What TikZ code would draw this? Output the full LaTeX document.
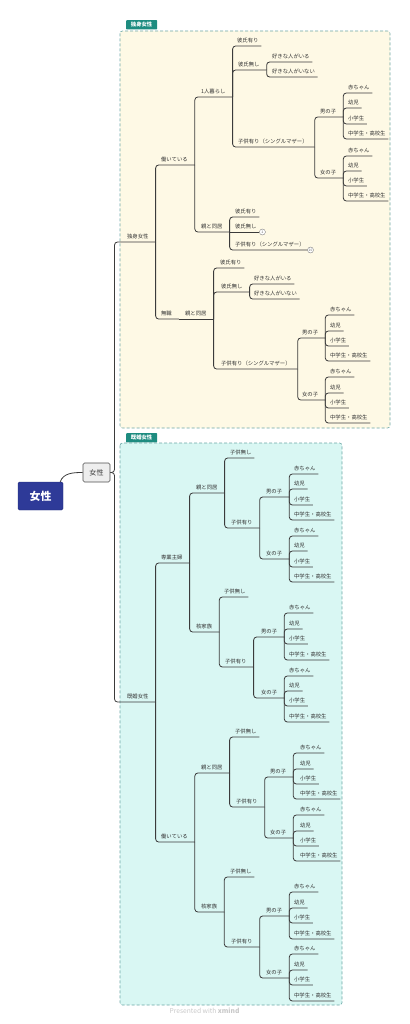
\documentclass[tikz,border=0pt]{standalone}
\usepackage{fontspec}
\setmainfont{Noto Sans CJK JP}
\usetikzlibrary{positioning}

\definecolor{ink}{HTML}{333333}
\definecolor{edge}{HTML}{3B3B3B}
\definecolor{rootblue}{HTML}{2E3A98}
\definecolor{rootedge}{HTML}{232C78}
\definecolor{mainfill}{HTML}{EEEEEE}
\definecolor{tagteal}{HTML}{1E8C80}
\definecolor{zonedash}{HTML}{6BA6A6}
\definecolor{zonecream}{HTML}{FEF9E5}
\definecolor{zonecyan}{HTML}{D9F7F3}
\definecolor{foot}{HTML}{C8C8C8}

\begin{document}
\begin{tikzpicture}[x=0.5mm,y=-0.5mm,
  branch/.style={draw=edge,line width=1.15pt,rounded corners=1.5mm},
  lbl/.style={anchor=south west,inner xsep=0pt,inner ysep=3.2pt,text height=5.8pt,text depth=1pt,text=ink,font=\fontsize{7.6}{8}\selectfont},
  topic/.style={lbl,execute at begin node={\hspace*{4mm}},execute at end node={\hspace*{3.5mm}}},
  leaf/.style={lbl,execute at begin node={\hspace*{3.5mm}},execute at end node={\hspace*{1.3mm}}},
  fold/.style={circle,draw=edge!70,fill=white,line width=0.5pt,inner sep=0pt,minimum size=3mm,font=\fontsize{4.6}{5}\selectfont,text=edge!80},
  zone/.style={draw=zonedash,dash pattern=on 1.5mm off 1mm,line width=0.8pt,rounded corners=1.2mm},
  tag/.style={anchor=south west,fill=tagteal,text=white,rounded corners=1pt,inner sep=0pt,minimum width=15.5mm,minimum height=4.6mm,font=\bfseries\fontsize{7.6}{8}\selectfont},
  rootbox/.style={draw=rootedge,fill=rootblue,text=white,rounded corners=2pt,minimum width=22.5mm,minimum height=14mm,font=\bfseries\fontsize{15.5}{16}\selectfont},
  mainbox/.style={draw=edge!90,fill=mainfill,text=ink,rounded corners=2pt,line width=0.8pt,minimum width=13.5mm,minimum height=9.5mm,font=\fontsize{10}{11}\selectfont}
]
\useasboundingbox (0,0) rectangle (409,1024);

% Boundary zones
\draw[zone,fill=zonecream] (120,31) rectangle (390,428);
\draw[zone,fill=zonecyan] (120,443) rectangle (342,1005);
\node[tag] (tag_single) at (126,29.5) {独身女性};
\node[tag] (tag_married) at (126,442.5) {既婚女性};

% Central topic
\node[rootbox] (root) at (40.5,496) {女性};
\node[mainbox] (main) at (96.5,472.5) {女性};
\coordinate (trunk) at (114.5,472.5);

\node[topic] (single) at (119,242) {独身女性};
\node[topic] (married) at (119,702) {既婚女性};

\draw[branch] ([xshift=-1.5mm]root.north east) to[out=70,in=180] (main.west);
\draw[branch] (main.east) -- (trunk) |- (single.south east);
\draw[branch] (main.east) -- (trunk) |- (married.south east);

% Single women
\node[topic] (s_work) at (153,165) {働いている};
\node[topic] (s_none) at (153,319) {無職};
\node[topic] (s_none_home) at (177,319) {親と同居};

\draw[branch] (single.south east) |- (s_work.south east);
\draw[branch] (single.south east) |- (s_none.south east);
\draw[branch] (s_none.south east) -- (s_none_home.south east);

% Single, working
\node[topic] (sw_alone) at (193,97) {1人暮らし};
\node[topic] (sw_home) at (193,232) {親と同居};

\draw[branch] (s_work.south east) |- (sw_alone.south east);
\draw[branch] (s_work.south east) |- (sw_home.south east);

% Single, working, living alone
\node[leaf] (swa_bf) at (230,46) {彼氏有り};
\node[topic] (swa_nobf) at (230,70) {彼氏無し};
\node[leaf] (swa_like) at (265,62) {好きな人がいる};
\node[leaf] (swa_nolike) at (265,77) {好きな人がいない};
\node[topic] (swa_kids) at (230,147) {子供有り（シングルマザー）};
\node[topic] (swa_boy) at (312,117) {男の子};
\node[leaf] (swa_boy1) at (341,93) {赤ちゃん};
\node[leaf] (swa_boy2) at (341,108) {幼児};
\node[leaf] (swa_boy3) at (341,124) {小学生};
\node[leaf] (swa_boy4) at (341,139) {中学生・高校生};
\node[topic] (swa_girl) at (312,178) {女の子};
\node[leaf] (swa_girl1) at (341,156) {赤ちゃん};
\node[leaf] (swa_girl2) at (341,171) {幼児};
\node[leaf] (swa_girl3) at (341,186) {小学生};
\node[leaf] (swa_girl4) at (341,201) {中学生・高校生};

\draw[branch] (sw_alone.south east) |- (swa_bf.south east);
\draw[branch] (sw_alone.south east) |- (swa_nobf.south east);
\draw[branch] (sw_alone.south east) |- (swa_kids.south east);
\draw[branch] (swa_nobf.south east) |- (swa_like.south east);
\draw[branch] (swa_nobf.south east) |- (swa_nolike.south east);
\draw[branch] (swa_kids.south east) |- (swa_boy.south east);
\draw[branch] (swa_kids.south east) |- (swa_girl.south east);
\draw[branch] (swa_boy.south east) |- (swa_boy1.south east);
\draw[branch] (swa_boy.south east) |- (swa_boy2.south east);
\draw[branch] (swa_boy.south east) |- (swa_boy3.south east);
\draw[branch] (swa_boy.south east) |- (swa_boy4.south east);
\draw[branch] (swa_girl.south east) |- (swa_girl1.south east);
\draw[branch] (swa_girl.south east) |- (swa_girl2.south east);
\draw[branch] (swa_girl.south east) |- (swa_girl3.south east);
\draw[branch] (swa_girl.south east) |- (swa_girl4.south east);

% Single, working, with parents (collapsed)
\node[leaf] (swh_bf) at (228,217) {彼氏有り};
\node[leaf] (swh_nobf) at (228,232) {彼氏無し};
\node[leaf] (swh_kids) at (228,250) {子供有り（シングルマザー）};
\node[fold,right=0pt of swh_nobf.south east] (swh_nobf_fold) {2};
\node[fold,right=0pt of swh_kids.south east] (swh_kids_fold) {10};

\draw[branch] (sw_home.south east) |- (swh_bf.south east);
\draw[branch] (sw_home.south east) -- (swh_nobf.south east);
\draw[branch] (sw_home.south east) |- (swh_kids.south east);

% Single, jobless, with parents
\node[leaf] (snh_bf) at (213,268) {彼氏有り};
\node[topic] (snh_nobf) at (213,292) {彼氏無し};
\node[leaf] (snh_like) at (247,284) {好きな人がいる};
\node[leaf] (snh_nolike) at (247,299) {好きな人がいない};
\node[topic] (snh_kids) at (213,369) {子供有り（シングルマザー）};
\node[topic] (snh_boy) at (294,338) {男の子};
\node[leaf] (snh_boy1) at (323,315) {赤ちゃん};
\node[leaf] (snh_boy2) at (323,331) {幼児};
\node[leaf] (snh_boy3) at (323,346) {小学生};
\node[leaf] (snh_boy4) at (323,361) {中学生・高校生};
\node[topic] (snh_girl) at (294,400) {女の子};
\node[leaf] (snh_girl1) at (323,377) {赤ちゃん};
\node[leaf] (snh_girl2) at (323,393) {幼児};
\node[leaf] (snh_girl3) at (323,408) {小学生};
\node[leaf] (snh_girl4) at (323,423) {中学生・高校生};

\draw[branch] (s_none_home.south east) |- (snh_bf.south east);
\draw[branch] (s_none_home.south east) |- (snh_nobf.south east);
\draw[branch] (s_none_home.south east) |- (snh_kids.south east);
\draw[branch] (snh_nobf.south east) |- (snh_like.south east);
\draw[branch] (snh_nobf.south east) |- (snh_nolike.south east);
\draw[branch] (snh_kids.south east) |- (snh_boy.south east);
\draw[branch] (snh_kids.south east) |- (snh_girl.south east);
\draw[branch] (snh_boy.south east) |- (snh_boy1.south east);
\draw[branch] (snh_boy.south east) |- (snh_boy2.south east);
\draw[branch] (snh_boy.south east) |- (snh_boy3.south east);
\draw[branch] (snh_boy.south east) |- (snh_boy4.south east);
\draw[branch] (snh_girl.south east) |- (snh_girl1.south east);
\draw[branch] (snh_girl.south east) |- (snh_girl2.south east);
\draw[branch] (snh_girl.south east) |- (snh_girl3.south east);
\draw[branch] (snh_girl.south east) |- (snh_girl4.south east);

% Married women
\node[topic] (m_wife) at (153,563) {専業主婦};
\node[topic] (m_work) at (153,842) {働いている};

\draw[branch] (married.south east) |- (m_wife.south east);
\draw[branch] (married.south east) |- (m_work.south east);

% Housewife
\node[topic] (mw_home) at (188,493) {親と同居};
\node[topic] (mw_nuc) at (188,632) {核家族};

\draw[branch] (m_wife.south east) |- (mw_home.south east);
\draw[branch] (m_wife.south east) |- (mw_nuc.south east);

% Housewife, with parents
\node[leaf] (mwh_none) at (223,458) {子供無し};
\node[topic] (mwh_kids) at (223,528) {子供有り};
\node[topic] (mwh_boy) at (258,497) {男の子};
\node[leaf] (mwh_boy1) at (287,474) {赤ちゃん};
\node[leaf] (mwh_boy2) at (287,489) {幼児};
\node[leaf] (mwh_boy3) at (287,505) {小学生};
\node[leaf] (mwh_boy4) at (287,520) {中学生・高校生};
\node[topic] (mwh_girl) at (258,559) {女の子};
\node[leaf] (mwh_girl1) at (287,536) {赤ちゃん};
\node[leaf] (mwh_girl2) at (287,551) {幼児};
\node[leaf] (mwh_girl3) at (287,567) {小学生};
\node[leaf] (mwh_girl4) at (287,582) {中学生・高校生};

\draw[branch] (mw_home.south east) |- (mwh_none.south east);
\draw[branch] (mw_home.south east) |- (mwh_kids.south east);
\draw[branch] (mwh_kids.south east) |- (mwh_boy.south east);
\draw[branch] (mwh_kids.south east) |- (mwh_girl.south east);
\draw[branch] (mwh_boy.south east) |- (mwh_boy1.south east);
\draw[branch] (mwh_boy.south east) |- (mwh_boy2.south east);
\draw[branch] (mwh_boy.south east) |- (mwh_boy3.south east);
\draw[branch] (mwh_boy.south east) |- (mwh_boy4.south east);
\draw[branch] (mwh_girl.south east) |- (mwh_girl1.south east);
\draw[branch] (mwh_girl.south east) |- (mwh_girl2.south east);
\draw[branch] (mwh_girl.south east) |- (mwh_girl3.south east);
\draw[branch] (mwh_girl.south east) |- (mwh_girl4.south east);

% Housewife, nuclear family
\node[leaf] (mwn_none) at (217,597) {子供無し};
\node[topic] (mwn_kids) at (217,667) {子供有り};
\node[topic] (mwn_boy) at (253,637) {男の子};
\node[leaf] (mwn_boy1) at (282,613) {赤ちゃん};
\node[leaf] (mwn_boy2) at (282,629) {幼児};
\node[leaf] (mwn_boy3) at (282,644) {小学生};
\node[leaf] (mwn_boy4) at (282,660) {中学生・高校生};
\node[topic] (mwn_girl) at (253,698) {女の子};
\node[leaf] (mwn_girl1) at (282,676) {赤ちゃん};
\node[leaf] (mwn_girl2) at (282,691) {幼児};
\node[leaf] (mwn_girl3) at (282,706) {小学生};
\node[leaf] (mwn_girl4) at (282,722) {中学生・高校生};

\draw[branch] (mw_nuc.south east) |- (mwn_none.south east);
\draw[branch] (mw_nuc.south east) |- (mwn_kids.south east);
\draw[branch] (mwn_kids.south east) |- (mwn_boy.south east);
\draw[branch] (mwn_kids.south east) |- (mwn_girl.south east);
\draw[branch] (mwn_boy.south east) |- (mwn_boy1.south east);
\draw[branch] (mwn_boy.south east) |- (mwn_boy2.south east);
\draw[branch] (mwn_boy.south east) |- (mwn_boy3.south east);
\draw[branch] (mwn_boy.south east) |- (mwn_boy4.south east);
\draw[branch] (mwn_girl.south east) |- (mwn_girl1.south east);
\draw[branch] (mwn_girl.south east) |- (mwn_girl2.south east);
\draw[branch] (mwn_girl.south east) |- (mwn_girl3.south east);
\draw[branch] (mwn_girl.south east) |- (mwn_girl4.south east);

% Married, working
\node[topic] (mk_home) at (193,773) {親と同居};
\node[topic] (mk_nuc) at (193,912) {核家族};

\draw[branch] (m_work.south east) |- (mk_home.south east);
\draw[branch] (m_work.south east) |- (mk_nuc.south east);

% Married, working, with parents
\node[leaf] (mkh_none) at (228,737) {子供無し};
\node[topic] (mkh_kids) at (228,807) {子供有り};
\node[topic] (mkh_boy) at (262,777) {男の子};
\node[leaf] (mkh_boy1) at (293,753) {赤ちゃん};
\node[leaf] (mkh_boy2) at (293,769) {幼児};
\node[leaf] (mkh_boy3) at (293,784) {小学生};
\node[leaf] (mkh_boy4) at (293,799) {中学生・高校生};
\node[topic] (mkh_girl) at (262,838) {女の子};
\node[leaf] (mkh_girl1) at (293,815) {赤ちゃん};
\node[leaf] (mkh_girl2) at (293,831) {幼児};
\node[leaf] (mkh_girl3) at (293,846) {小学生};
\node[leaf] (mkh_girl4) at (293,861) {中学生・高校生};

\draw[branch] (mk_home.south east) |- (mkh_none.south east);
\draw[branch] (mk_home.south east) |- (mkh_kids.south east);
\draw[branch] (mkh_kids.south east) |- (mkh_boy.south east);
\draw[branch] (mkh_kids.south east) |- (mkh_girl.south east);
\draw[branch] (mkh_boy.south east) |- (mkh_boy1.south east);
\draw[branch] (mkh_boy.south east) |- (mkh_boy2.south east);
\draw[branch] (mkh_boy.south east) |- (mkh_boy3.south east);
\draw[branch] (mkh_boy.south east) |- (mkh_boy4.south east);
\draw[branch] (mkh_girl.south east) |- (mkh_girl1.south east);
\draw[branch] (mkh_girl.south east) |- (mkh_girl2.south east);
\draw[branch] (mkh_girl.south east) |- (mkh_girl3.south east);
\draw[branch] (mkh_girl.south east) |- (mkh_girl4.south east);

% Married, working, nuclear family
\node[leaf] (mkn_none) at (223,877) {子供無し};
\node[topic] (mkn_kids) at (223,947) {子供有り};
\node[topic] (mkn_boy) at (258,916) {男の子};
\node[leaf] (mkn_boy1) at (287,892) {赤ちゃん};
\node[leaf] (mkn_boy2) at (287,908) {幼児};
\node[leaf] (mkn_boy3) at (287,923) {小学生};
\node[leaf] (mkn_boy4) at (287,939) {中学生・高校生};
\node[topic] (mkn_girl) at (258,978) {女の子};
\node[leaf] (mkn_girl1) at (287,954) {赤ちゃん};
\node[leaf] (mkn_girl2) at (287,970) {幼児};
\node[leaf] (mkn_girl3) at (287,985) {小学生};
\node[leaf] (mkn_girl4) at (287,1001) {中学生・高校生};

\draw[branch] (mk_nuc.south east) |- (mkn_none.south east);
\draw[branch] (mk_nuc.south east) |- (mkn_kids.south east);
\draw[branch] (mkn_kids.south east) |- (mkn_boy.south east);
\draw[branch] (mkn_kids.south east) |- (mkn_girl.south east);
\draw[branch] (mkn_boy.south east) |- (mkn_boy1.south east);
\draw[branch] (mkn_boy.south east) |- (mkn_boy2.south east);
\draw[branch] (mkn_boy.south east) |- (mkn_boy3.south east);
\draw[branch] (mkn_boy.south east) |- (mkn_boy4.south east);
\draw[branch] (mkn_girl.south east) |- (mkn_girl1.south east);
\draw[branch] (mkn_girl.south east) |- (mkn_girl2.south east);
\draw[branch] (mkn_girl.south east) |- (mkn_girl3.south east);
\draw[branch] (mkn_girl.south east) |- (mkn_girl4.south east);

% Footer
\node[text=foot,font=\fontsize{9.5}{10}\selectfont] (credit) at (204.5,1011) {Presented with \textbf{xmind}};

\end{tikzpicture}
\end{document}
